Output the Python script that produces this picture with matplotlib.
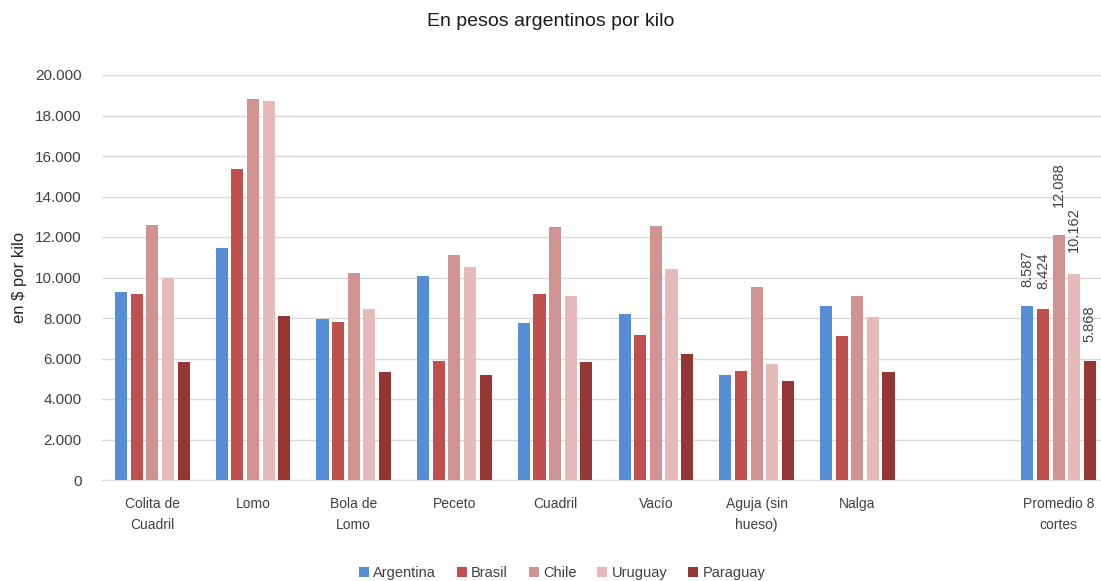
"""
Precios de cortes vacunos por país, en pesos argentinos por kilo
"""

import numpy as np
import matplotlib
matplotlib.use('Agg')
import matplotlib.pyplot as plt
from matplotlib.ticker import FuncFormatter

# Datos (el hueco vacío antes del promedio es una categoría en blanco)
CATEGORIES = ['Colita de\nCuadril', 'Lomo', 'Bola de\nLomo', 'Peceto', 'Cuadril',
              'Vacío', 'Aguja (sin\nhueso)', 'Nalga', '', 'Promedio 8\ncortes']
COUNTRIES = ['Argentina', 'Brasil', 'Chile', 'Uruguay', 'Paraguay']
argentina = [9300, 11450, 7950, 10050, 7750, 8200, 5200, 8600, np.nan, 8587]
brasil = [9200, 15350, 7800, 5900, 9200, 7150, 5400, 7100, np.nan, 8424]
chile = [12600, 18800, 10200, 11100, 12500, 12550, 9550, 9100, np.nan, 12088]
uruguay = [10000, 18700, 8450, 10500, 9100, 10400, 5750, 8050, np.nan, 10162]
paraguay = [5850, 8100, 5350, 5200, 5850, 6200, 4900, 5350, np.nan, 5868]

COLORS = ['#558ED5', '#C0504D', '#D09392', '#E6BAB9', '#943634']
# separación de las etiquetas del promedio (en puntos)
LABEL_GAP = [14, 15, 20, 16, 14]

SERIES = [argentina, brasil, chile, uruguay, paraguay]


def miles(v: float) -> str:
    """Formato con punto como separador de miles"""
    return f'{v:,.0f}'.replace(',', '.')


plt.rcParams['font.family'] = ['Liberation Sans', 'DejaVu Sans']

fig = plt.figure(figsize=(11.01, 5.81), dpi=100)
W, H = 1101, 581
ax = fig.add_axes([102 / W, (H - 480) / H, 999 / W, 405 / H])

x = np.arange(len(CATEGORIES))
pitch = 0.155
width = 0.12
for i, (name, vals, color) in enumerate(zip(COUNTRIES, SERIES, COLORS)):
    pos = x + (i - 2) * pitch
    ax.bar(pos, vals, width, color=color, label=name, zorder=3)
    # etiqueta solo en el promedio
    ax.annotate(miles(vals[-1]), (pos[-1], vals[-1]), xytext=(0, LABEL_GAP[i]),
                textcoords='offset points', rotation=90, ha='center', va='bottom',
                fontsize=10.5, color='#404040')

ax.set_xlim(-0.5, -0.5 + 999 / 100.7)
ax.set_ylim(0, 20000)
ax.set_yticks(np.arange(0, 20001, 2000))
ax.yaxis.set_major_formatter(FuncFormatter(lambda v, p: miles(v)))
ax.set_xticks(x)
ax.set_xticklabels(CATEGORIES, fontsize=10, linespacing=1.65)
ax.tick_params(axis='both', length=0, colors='#404040')
ax.tick_params(axis='y', labelsize=11, pad=14.5)
ax.tick_params(axis='x', pad=12)
ax.grid(True, axis='y', color='#D9D9D9', linewidth=1, zorder=0)
for s in ['top', 'right', 'left']:
    ax.spines[s].set_visible(False)
ax.spines['bottom'].set_color('#D9D9D9')

ax.set_ylabel('en $ por kilo', fontsize=12, color='#262626', labelpad=6)
fig.text(0.5, 1 - 21 / H, 'En pesos argentinos por kilo', ha='center', va='center',
         fontsize=14, color='#1a1a1a')

fig.legend(loc='center', bbox_to_anchor=(562 / W, 1 - 573 / H), ncol=5, frameon=False,
           fontsize=10.5, handlelength=0.7, handleheight=0.7, handletextpad=0.3,
           columnspacing=1.4, labelcolor='#404040')

fig.savefig('out.png', dpi=100)
plt.close(fig)
